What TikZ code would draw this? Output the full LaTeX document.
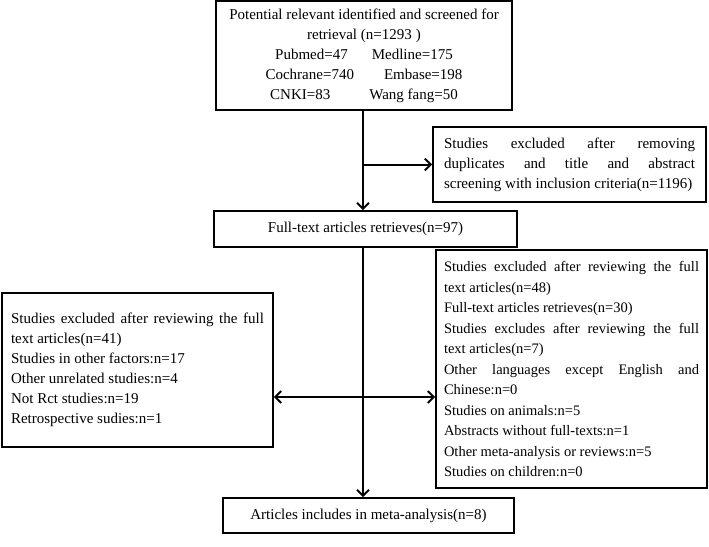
\documentclass[tikz,border=0pt]{standalone}
\usepackage{fontspec}
\setmainfont{Liberation Serif}
\usetikzlibrary{positioning,arrows.meta}
\hyphenpenalty=10000

\begin{document}
\begin{tikzpicture}[x=1pt,y=-1pt,
    box/.style={draw,line width=1.6pt,inner sep=0pt,font=\fontsize{15}{20}\selectfont},
    sidebox/.style={box,text width=#1,align=justify},
    flow/.style={line width=2pt,-{Straight Barb[length=6pt,width=12pt]}}]
    \useasboundingbox (0,0) rectangle (709,546);

    \node[box,minimum width=296pt,minimum height=109pt,align=center] (search) at (364,55.5)
        {Potential relevant identified and screened for\\
         retrieval (n=1293\kern4pt)\\
         Pubmed=47\hspace{24pt}Medline=175\\
         Cochrane=740\hspace{30pt}Embase=198\\
         CNKI=83\hspace{39pt}Wang fang=50};

    \node[sidebox=251pt,minimum width=273pt,minimum height=75pt] (dupl) at (569.5,164.5)
        {Studies excluded after removing\linebreak
         duplicates and title and abstract\linebreak
         screening with inclusion criteria(n=1196)};

    \node[box,minimum width=303pt,minimum height=36pt] (full) at (365.5,229)
        {Full-text articles retrieves(n=97)};

    % excluded at full-text stage
    \node[sidebox=253pt,minimum width=271pt,minimum height=154pt] (left) at (137.5,370)
        {Studies excluded after reviewing the full\linebreak
         text articles(n=41)\\
         Studies in other factors:n=17\\
         Other unrelated studies:n=4\\
         Not Rct studies:n=19\\
         Retrospective sudies:n=1\par\vspace*{17pt}};

    \node[sidebox=255pt,minimum width=271pt,minimum height=238pt,
          font=\fontsize{14.5}{20.5}\selectfont] (right) at (571.5,369)
        {Studies excluded after reviewing the full\linebreak
         text articles(n=48)\\
         Full-text articles retrieves(n=30)\\
         Studies excludes after reviewing the full\linebreak
         text articles(n=7)\\
         Other languages except English and\linebreak
         Chinese:n=0\\
         Studies on animals:n=5\\
         Abstracts without full-texts:n=1\\
         Other meta-analysis or reviews:n=5\\
         Studies on children:n=0};

    \node[box,minimum width=291pt,minimum height=35pt] (final) at (368.5,515.5)
        {Articles includes in meta-analysis(n=8)};

    \coordinate (split) at (363,397);

    \draw[flow] (search.south -| split) -- (full.north -| split);
    \draw[flow] (dupl.west -| split) -- (dupl.west);
    \draw[flow] (full.south -| split) -- (final.north -| split);
    \draw[flow] (split) -- (split -| left.east);
    \draw[flow] (split) -- (split -| right.west);
\end{tikzpicture}
\end{document}
